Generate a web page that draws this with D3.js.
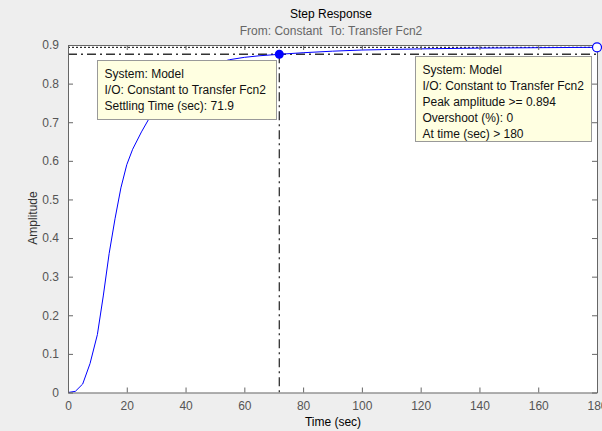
<!DOCTYPE html>
<html>
<head>
<meta charset="utf-8">
<script src="https://cdn.jsdelivr.net/npm/d3@7"></script>
<style>
  body { margin: 0; background: #eeeeee; }
  svg { display: block; font-family: "Liberation Sans", Arial, sans-serif; }
</style>
</head>
<body>
<div id="chart"></div>
<script>
// step response samples
const timeSec = [0, 2.5, 5, 7.5, 10, 12, 14, 16, 18, 20, 22, 25, 28, 32, 36, 40, 45, 50, 55, 60, 65, 72, 80, 90, 100, 120, 140, 160, 180];
const amplitude = [0, 0.003, 0.022, 0.075, 0.15, 0.25, 0.36, 0.45, 0.53, 0.59, 0.63, 0.675, 0.715, 0.755, 0.787, 0.812, 0.836, 0.852, 0.862, 0.868, 0.872, 0.876, 0.88, 0.884, 0.887, 0.89, 0.892, 0.893, 0.894];

const xTicks = [0, 20, 40, 60, 80, 100, 120, 140, 160, 180];
const yTicks = [0, 0.1, 0.2, 0.3, 0.4, 0.5, 0.6, 0.7, 0.8, 0.9];

const finalValue = 0.894;
const settleTime = 71.9;
const settleLevel = 0.876;

const settleNote = ['System: Model', 'I/O: Constant to Transfer Fcn2', 'Settling Time (sec): 71.9'];
const peakNote = ['System: Model', 'I/O: Constant to Transfer Fcn2', 'Peak amplitude >= 0.894', 'Overshoot (%): 0', 'At time (sec) > 180'];

const width = 602;
const height = 431;
const margin = { top: 45, right: 5, bottom: 38.5, left: 68 };

const svg = d3.select('#chart')
  .append('svg')
  .attr('width', width)
  .attr('height', height);

const x = d3.scaleLinear().domain([0, 180]).range([margin.left, width - margin.right]);
const y = d3.scaleLinear().domain([0, 0.9]).range([height - margin.bottom, margin.top]);

// axes background
svg.append('rect')
  .attr('x', x(0)).attr('y', y(0.9))
  .attr('width', x(180) - x(0)).attr('height', y(0) - y(0.9))
  .attr('fill', '#fff');

// reference lines
svg.append('line')
  .attr('x1', x(0)).attr('x2', x(180))
  .attr('y1', y(finalValue)).attr('y2', y(finalValue))
  .attr('stroke', '#000').attr('stroke-width', 1)
  .attr('stroke-dasharray', '2,2');

svg.append('line')
  .attr('x1', x(0)).attr('x2', x(180))
  .attr('y1', y(settleLevel)).attr('y2', y(settleLevel))
  .attr('stroke', '#333').attr('stroke-width', 1.3)
  .attr('stroke-dasharray', '9,4,2,4');

svg.append('line')
  .attr('x1', x(settleTime)).attr('x2', x(settleTime))
  .attr('y1', y(settleLevel)).attr('y2', y(0))
  .attr('stroke', '#333').attr('stroke-width', 1.3)
  .attr('stroke-dasharray', '9,4,2,4');

// response curve
const line = d3.line()
  .x((d, i) => x(timeSec[i]))
  .y(d => y(d));

svg.append('path')
  .datum(amplitude)
  .attr('fill', 'none')
  .attr('stroke', '#0000ff')
  .attr('stroke-width', 1)
  .attr('d', line);

// axes with inward ticks on all four sides
const tickColor = '#555';
function styleAxis(g) {
  g.select('.domain').attr('stroke', '#666');
  g.selectAll('.tick line').attr('stroke', '#666');
  g.selectAll('.tick text').attr('fill', tickColor).attr('font-size', 12)
    .attr('font-family', '"Liberation Sans", Arial, sans-serif');
}

svg.append('g')
  .attr('transform', `translate(0,${y(0)})`)
  .call(d3.axisBottom(x).tickValues(xTicks).tickSize(-5).tickPadding(9).tickSizeOuter(0))
  .call(styleAxis);

svg.append('g')
  .attr('transform', `translate(0,${y(0.9)})`)
  .call(d3.axisTop(x).tickValues(xTicks).tickSize(-5).tickFormat('').tickSizeOuter(0))
  .call(styleAxis);

svg.append('g')
  .attr('transform', `translate(${x(0)},0)`)
  .call(d3.axisLeft(y).tickValues(yTicks).tickSize(-5).tickPadding(9).tickSizeOuter(0)
    .tickFormat(d => d === 0 ? '0' : d3.format('.1f')(d)))
  .call(styleAxis);

svg.append('g')
  .attr('transform', `translate(${x(180)},0)`)
  .call(d3.axisRight(y).tickValues(yTicks).tickSize(-5).tickFormat('').tickSizeOuter(0))
  .call(styleAxis);

// markers
svg.append('circle')
  .attr('cx', x(settleTime)).attr('cy', y(settleLevel)).attr('r', 4.5)
  .attr('fill', '#0000ff');

svg.append('circle')
  .attr('cx', x(180)).attr('cy', y(finalValue)).attr('r', 4.5)
  .attr('fill', '#fff').attr('stroke', '#0000ff').attr('stroke-width', 1.2);

// data tip boxes
function dataTip(lines, bx, by, bw, bh) {
  const g = svg.append('g');
  g.append('rect')
    .attr('x', bx).attr('y', by).attr('width', bw).attr('height', bh)
    .attr('fill', '#ffffe1').attr('stroke', '#999').attr('stroke-width', 1);
  g.selectAll('text')
    .data(lines)
    .enter().append('text')
    .attr('x', bx + 7)
    .attr('y', (d, i) => by + 17 + i * 16)
    .attr('font-size', 12)
    .attr('fill', '#111')
    .text(d => d);
}
dataTip(settleNote, 97.5, 60.5, 179, 59);
dataTip(peakNote, 415.5, 56.5, 176, 85);

// titles
svg.append('text')
  .attr('x', 331).attr('y', 18)
  .attr('text-anchor', 'middle').attr('font-size', 12).attr('fill', '#000')
  .text('Step Response');

svg.append('text')
  .attr('x', 331).attr('y', 35)
  .attr('text-anchor', 'middle').attr('font-size', 12).attr('fill', '#666')
  .style('white-space', 'pre')
  .text('From: Constant  To: Transfer Fcn2');

svg.append('text')
  .attr('x', 333).attr('y', 426)
  .attr('text-anchor', 'middle').attr('font-size', 12).attr('fill', '#000')
  .text('Time (sec)');

svg.append('text')
  .attr('transform', 'translate(37,218) rotate(-90)')
  .attr('text-anchor', 'middle').attr('font-size', 12).attr('fill', '#333')
  .text('Amplitude');
</script>
</body>
</html>
